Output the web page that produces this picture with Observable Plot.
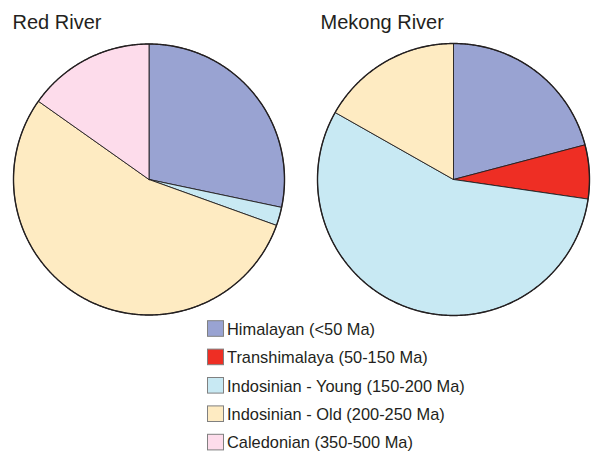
<!DOCTYPE html>
<html>
<head>
<meta charset="utf-8">
<script src="https://cdn.jsdelivr.net/npm/d3@7"></script>
<script src="https://cdn.jsdelivr.net/npm/@observablehq/plot@0.6"></script>
<style>
  body { margin: 0; background: #fff; }
  #myplot { font-family: "Liberation Sans", Arial, sans-serif; }
</style>
</head>
<body>
<div id="myplot"></div>
<script>
const categories = [
  "Himalayan (<50 Ma)",
  "Transhimalaya (50-150 Ma)",
  "Indosinian - Young (150-200 Ma)",
  "Indosinian - Old (200-250 Ma)",
  "Caledonian (350-500 Ma)"
];
const colors = ["#99a3d2", "#ee2e24", "#c8e9f3", "#feebc2", "#fddceb"];

const rivers = ["Red River", "Mekong River"];
// percent of grains per age group, same order as categories
const redRiver = [28.3, 0, 2.2, 54.3, 15.2];
const mekongRiver = [20.9, 6.4, 55.9, 16.8, 0];

// layout of each pie in the svg
const pies = [
  {name: rivers[0], values: redRiver, cx: 148.5, cy: 179, r: 135.5, tx: 12},
  {name: rivers[1], values: mekongRiver, cx: 453, cy: 179, r: 136, tx: 320}
];

const ink = "#231f20";

// slice outlines as closed polygons
const slices = [];
const outlines = [];
for (const p of pies) {
  const arcs = d3.pie().sort(null)(p.values);
  arcs.forEach((a, i) => {
    if (a.value <= 0) return;
    const key = p.name + "-" + i;
    slices.push({key, cat: categories[i], x: p.cx, y: p.cy});
    const n = Math.max(2, Math.ceil((a.endAngle - a.startAngle) / 0.005));
    for (let k = 0; k <= n; k++) {
      const t = a.startAngle + (a.endAngle - a.startAngle) * k / n;
      slices.push({key, cat: categories[i], x: p.cx + p.r * Math.sin(t), y: p.cy - p.r * Math.cos(t)});
    }
    slices.push({key, cat: categories[i], x: p.cx, y: p.cy});
  });
  for (let k = 0; k <= 720; k++) {
    const t = 2 * Math.PI * k / 720;
    outlines.push({key: p.name, x: p.cx + p.r * Math.sin(t), y: p.cy - p.r * Math.cos(t)});
  }
}

const legend = categories.map((c, i) => ({cat: c, row: i}));
const rowY = i => 328.5 + i * 28.4;

const plot = Plot.plot({
  width: 592,
  height: 451,
  margin: 0,
  x: {axis: null, domain: [0, 592], range: [0, 592]},
  y: {axis: null, domain: [0, 451], range: [0, 451]},
  color: {domain: categories, range: colors},
  style: {fontFamily: "Liberation Sans, Arial, sans-serif", background: "#fff"},
  marks: [
    Plot.line(slices, {x: "x", y: "y", z: "key", fill: "cat", stroke: ink, strokeWidth: 0.9, strokeLinejoin: "round"}),
    Plot.line(outlines, {x: "x", y: "y", z: "key", stroke: ink, strokeWidth: 1.4}),
    Plot.text(pies, {x: "tx", y: () => 22.5, text: "name", textAnchor: "start", fontSize: 20, fill: ink}),
    Plot.rect(legend, {
      x1: () => 207.5, x2: () => 223.5,
      y1: d => rowY(d.row) - 7.8, y2: d => rowY(d.row) + 7.8,
      fill: "cat", stroke: "#808080", strokeWidth: 1
    }),
    Plot.text(legend, {x: () => 226.5, y: d => rowY(d.row) + 0.5, text: "cat", textAnchor: "start", fontSize: 16.4, fill: ink})
  ]
});

document.querySelector("#myplot").append(plot);
</script>
</body>
</html>
